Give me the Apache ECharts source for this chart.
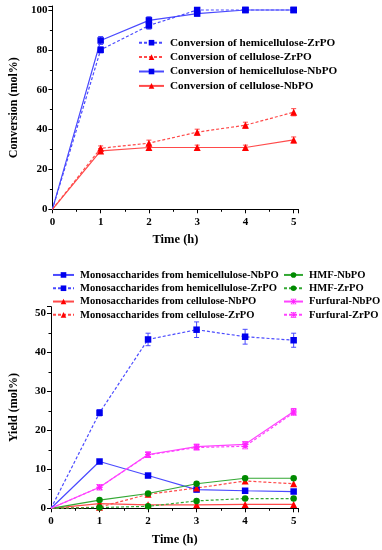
<!DOCTYPE html>
<html><head><meta charset="utf-8">
<script src="https://cdn.jsdelivr.net/npm/echarts@6/dist/echarts.min.js"></script>
<style>html,body{margin:0;padding:0;background:#fff}#c{width:382px;height:550px}</style>
</head><body><div id="c"></div>
<script>
const timeH = [0, 1, 2, 3, 4, 5];
const xTicks = ['0', '1', '2', '3', '4', '5'];

// Top chart: conversion (mol%)
const convHemiZr = [0, 80.0, 92.2, 100, 100, 100];
const convHemiZrErr = [0, 1.5, 1.8, 1.2, 0, 0];
const convCellZr = [0, 30.6, 33.2, 38.7, 42.2, 48.7];
const convCellZrErr = [0, 1.2, 1.5, 1.5, 1.5, 1.8];
const convHemiNb = [0, 84.7, 94.8, 98.2, 100, 100];
const convHemiNbErr = [0, 2.0, 1.8, 1.2, 0, 0];
const convCellNb = [0, 29.3, 31.0, 31.0, 31.0, 34.8];
const convCellNbErr = [0, 1.2, 1.5, 1.2, 1.2, 1.5];

// Bottom chart: yield (mol%)
const monoHemiNb = [0, 12.0, 8.4, 4.8, 4.5, 4.3];
const monoHemiZr = [0, 24.5, 43.3, 45.8, 44.0, 43.1];
const monoHemiZrErr = [0, 0.8, 1.6, 2.0, 1.9, 1.8];
const monoCellNb = [0, 1.2, 0.9, 0.9, 1.0, 1.0];
const monoCellZr = [0, 0.3, 3.6, 5.2, 7.0, 6.3];
const hmfNb = [0, 2.1, 3.8, 6.3, 7.7, 7.7];
const hmfZr = [0, 0.2, 0.5, 1.9, 2.5, 2.5];
const furNb = [0, 5.4, 13.8, 15.8, 16.4, 24.8];
const furNbErr = [0, 0.4, 0.6, 0.6, 0.6, 0.8];
const furZr = [0, 5.4, 13.7, 15.6, 15.9, 24.5];

const topNames = ['Conversion of hemicellulose-ZrPO', 'Conversion of cellulose-ZrPO',
  'Conversion of hemicellulose-NbPO', 'Conversion of cellulose-NbPO'];
const botNamesL = ['Monosaccharides from hemicellulose-NbPO', 'Monosaccharides from hemicellulose-ZrPO',
  'Monosaccharides from cellulose-NbPO', 'Monosaccharides from cellulose-ZrPO'];
const botNamesR = ['HMF-NbPO', 'HMF-ZrPO', 'Furfural-NbPO', 'Furfural-ZrPO'];

const FONT = '"Liberation Serif", "Times New Roman", serif';
const C = {
  blue: {m: '#0000ee', l: '#4a4aff'},
  red: {m: '#ff0000', l: '#ff4a4a'},
  green: {m: '#008a00', l: '#33a833'},
  mag: {m: '#ff22ff', l: '#ff44ff'}
};
const starPath = 'path://M0,4.3L10,4.3L10,5.7L0,5.7Z M4.3,0L5.7,0L5.7,10L4.3,10Z M0,1L1,0L10,9L9,10Z M9,0L10,1L1,10L0,9Z M0,0L10,0L10,1L0,1Z M0,9L10,9L10,10L0,10Z';

function pairs(ys) {
  return timeH.map((t, i) => (i === 0 ? {value: [t, ys[i]], symbolSize: 0} : [t, ys[i]]));
}
function lineSeries(name, ys, col, dashed, symbol, size, gi) {
  return {
    name, type: 'line', xAxisIndex: gi, yAxisIndex: gi, data: pairs(ys),
    symbol, symbolSize: size, showSymbol: true,
    itemStyle: {color: col.m},
    lineStyle: {color: col.l, width: 1.2, type: dashed ? [3, 2] : 'solid'},
    animation: false, z: 3
  };
}
function errSeries(ys, errs, col, gi) {
  return {
    type: 'custom', xAxisIndex: gi, yAxisIndex: gi, animation: false, z: 2,
    data: timeH.map((t, i) => [t, ys[i], errs[i]]).filter(d => d[2] > 0),
    renderItem: function (params, api) {
      const x = api.value(0), y = api.value(1), e = api.value(2);
      const p1 = api.coord([x, y + e]), p2 = api.coord([x, y - e]);
      const w = 2.5;
      const st = {stroke: col.l, lineWidth: 1};
      return {type: 'group', children: [
        {type: 'line', shape: {x1: p1[0], y1: p1[1], x2: p2[0], y2: p2[1]}, style: st},
        {type: 'line', shape: {x1: p1[0] - w, y1: p1[1], x2: p1[0] + w, y2: p1[1]}, style: st},
        {type: 'line', shape: {x1: p2[0] - w, y1: p2[1], x2: p2[0] + w, y2: p2[1]}, style: st}
      ]};
    }
  };
}

function xAxis(gi) {
  return {
    type: 'value', gridIndex: gi, min: 0, max: 5.1, interval: 1,
    name: 'Time (h)', nameLocation: 'middle', nameGap: gi === 0 ? 24 : 25,
    nameTextStyle: {fontFamily: FONT, fontWeight: 'bold', fontSize: 12.5, color: '#000'},
    axisLine: {show: true, onZero: false, lineStyle: {color: '#000', width: 1}},
    axisTick: {show: true, length: 4, lineStyle: {color: '#000'}},
    minorTick: {show: true, splitNumber: 2, length: 2.5, lineStyle: {color: '#000'}},
    splitLine: {show: false},
    axisLabel: {margin: 7, fontFamily: FONT, fontWeight: 'bold', fontSize: 11, color: '#000',
      formatter: v => (Math.abs(v - Math.round(v)) < 1e-6 && v <= 5) ? xTicks[Math.round(v)] : ''}
  };
}
function yAxis(gi, name, max, interval) {
  return {
    type: 'value', gridIndex: gi, min: 0, max, interval,
    name, nameLocation: 'middle', nameGap: 31,
    nameTextStyle: {fontFamily: FONT, fontWeight: 'bold', fontSize: 12, color: '#000'},
    axisLine: {show: true, onZero: false, lineStyle: {color: '#000', width: 1}},
    axisTick: {show: true, length: 4, lineStyle: {color: '#000'}},
    minorTick: {show: true, splitNumber: 2, length: 2.5, lineStyle: {color: '#000'}},
    splitLine: {show: false},
    axisLabel: {margin: 5, fontFamily: FONT, fontWeight: 'bold', fontSize: 11, color: '#000',
      formatter: v => (Math.abs(v / interval - Math.round(v / interval)) < 1e-6) ? String(v) : ''}
  };
}
function legend(data, left, top, iw, fs, lh) {
  return {
    data, orient: 'vertical', left, top, padding: 0, itemGap: 0,
    itemWidth: iw, itemHeight: 7, selectedMode: false,
    textStyle: {fontFamily: FONT, fontWeight: 'bold', fontSize: fs, color: '#000', lineHeight: lh, padding: [0, 0, 0, 1]}
  };
}

const series = [
  lineSeries(topNames[0], convHemiZr, C.blue, true, 'rect', 6.5, 0),
  lineSeries(topNames[1], convCellZr, C.red, true, 'triangle', 7, 0),
  lineSeries(topNames[2], convHemiNb, C.blue, false, 'rect', 6.5, 0),
  lineSeries(topNames[3], convCellNb, C.red, false, 'triangle', 7, 0),
  errSeries(convHemiZr, convHemiZrErr, C.blue, 0),
  errSeries(convCellZr, convCellZrErr, C.red, 0),
  errSeries(convHemiNb, convHemiNbErr, C.blue, 0),
  errSeries(convCellNb, convCellNbErr, C.red, 0),

  lineSeries(botNamesL[0], monoHemiNb, C.blue, false, 'rect', 6.5, 1),
  lineSeries(botNamesL[1], monoHemiZr, C.blue, true, 'rect', 6.5, 1),
  lineSeries(botNamesL[2], monoCellNb, C.red, false, 'triangle', 7, 1),
  lineSeries(botNamesL[3], monoCellZr, C.red, true, 'triangle', 7, 1),
  lineSeries(botNamesR[0], hmfNb, C.green, false, 'circle', 6.5, 1),
  lineSeries(botNamesR[1], hmfZr, C.green, true, 'circle', 6.5, 1),
  lineSeries(botNamesR[2], furNb, C.mag, false, starPath, 6, 1),
  lineSeries(botNamesR[3], furZr, C.mag, true, starPath, 6, 1),
  errSeries(monoHemiZr, monoHemiZrErr, C.blue, 1),
  errSeries(furNb, furNbErr, C.mag, 1)
];

const chart = echarts.init(document.getElementById('c'), null, {renderer: 'canvas'});
chart.setOption({
  backgroundColor: '#fff',
  animation: false,
  grid: [
    {left: 47, top: 6, width: 251.5, height: 203.3, containLabel: false},
    {left: 47, top: 306.7, width: 251.5, height: 201.6, containLabel: false}
  ],
  xAxis: [xAxis(0), xAxis(1)],
  yAxis: [yAxis(0, 'Conversion (mol%)', 102, 20), yAxis(1, 'Yield (mol%)', 51.7, 10)],
  legend: [
    legend(topNames, 138, 35.5, 25, 11.2, 14.4),
    legend(botNamesL, 52, 268.3, 21, 10.6, 13.3),
    legend(botNamesR, 283, 268.3, 19, 10.6, 13.3)
  ],
  series
});
</script>
</body></html>
